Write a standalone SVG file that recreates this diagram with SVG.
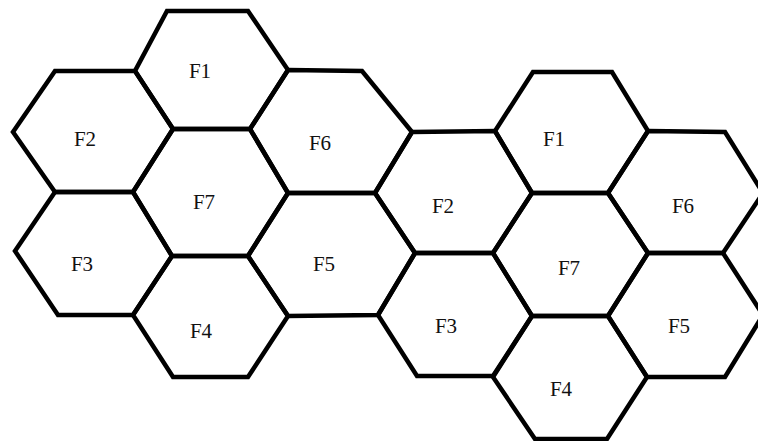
<svg xmlns="http://www.w3.org/2000/svg" width="758" height="441" viewBox="0 0 758 441">
<style>
.hex{fill:none;stroke:#000;stroke-width:4.5;stroke-linejoin:miter}
.lbl{font-family:"Liberation Serif","Times New Roman",serif;font-size:21px;fill:#111;text-anchor:middle}
</style>
<rect width="758" height="441" fill="#fff"/>
<g id="L-F1"><polygon class="hex" points="167,11 248,11 288,70 250,129 173,129 135,71"/><text class="lbl" x="200" y="78">F1</text></g>
<g id="L-F2"><polygon class="hex" points="55,71 135,71 173,129 133,192 55,192 13,132"/><text class="lbl" x="85" y="146">F2</text></g>
<g id="L-F6"><polygon class="hex" points="288,70 362,71 412,132 375,193 288,193 250,129"/><text class="lbl" x="320" y="150">F6</text></g>
<g id="L-F7"><polygon class="hex" points="173,129 250,129 288,193 248,256 172,256 133,192"/><text class="lbl" x="204" y="209">F7</text></g>
<g id="L-F3"><polygon class="hex" points="55,192 133,192 172,256 133,315 58,315 15,251"/><text class="lbl" x="82" y="271">F3</text></g>
<g id="L-F5"><polygon class="hex" points="288,193 375,193 415,253 378,315 288,316 248,256"/><text class="lbl" x="324" y="271">F5</text></g>
<g id="L-F4"><polygon class="hex" points="172,256 248,256 288,316 248,377 173,377 133,315"/><text class="lbl" x="201" y="338">F4</text></g>
<g id="R-F1"><polygon class="hex" points="533,72 612,72 648,131 608,193 532,193 495,131"/><text class="lbl" x="554" y="146">F1</text></g>
<g id="R-F2"><polygon class="hex" points="412,132 495,131 532,193 493,253 415,253 375,193"/><text class="lbl" x="443" y="213">F2</text></g>
<g id="R-F6"><polygon class="hex" points="648,131 725,132 763,193 723,253 648,253 608,193"/><text class="lbl" x="683" y="213">F6</text></g>
<g id="R-F7"><polygon class="hex" points="532,193 608,193 648,253 608,316 532,316 493,253"/><text class="lbl" x="569" y="275">F7</text></g>
<g id="R-F3"><polygon class="hex" points="415,253 493,253 532,316 493,376 417,376 378,315"/><text class="lbl" x="446" y="333">F3</text></g>
<g id="R-F5"><polygon class="hex" points="648,253 723,253 763,315 725,377 647,377 608,316"/><text class="lbl" x="679" y="333">F5</text></g>
<g id="R-F4"><polygon class="hex" points="532,316 608,316 647,377 607,439 535,439 493,377"/><text class="lbl" x="561" y="396">F4</text></g>
<g id="connectors"></g>
</svg>
